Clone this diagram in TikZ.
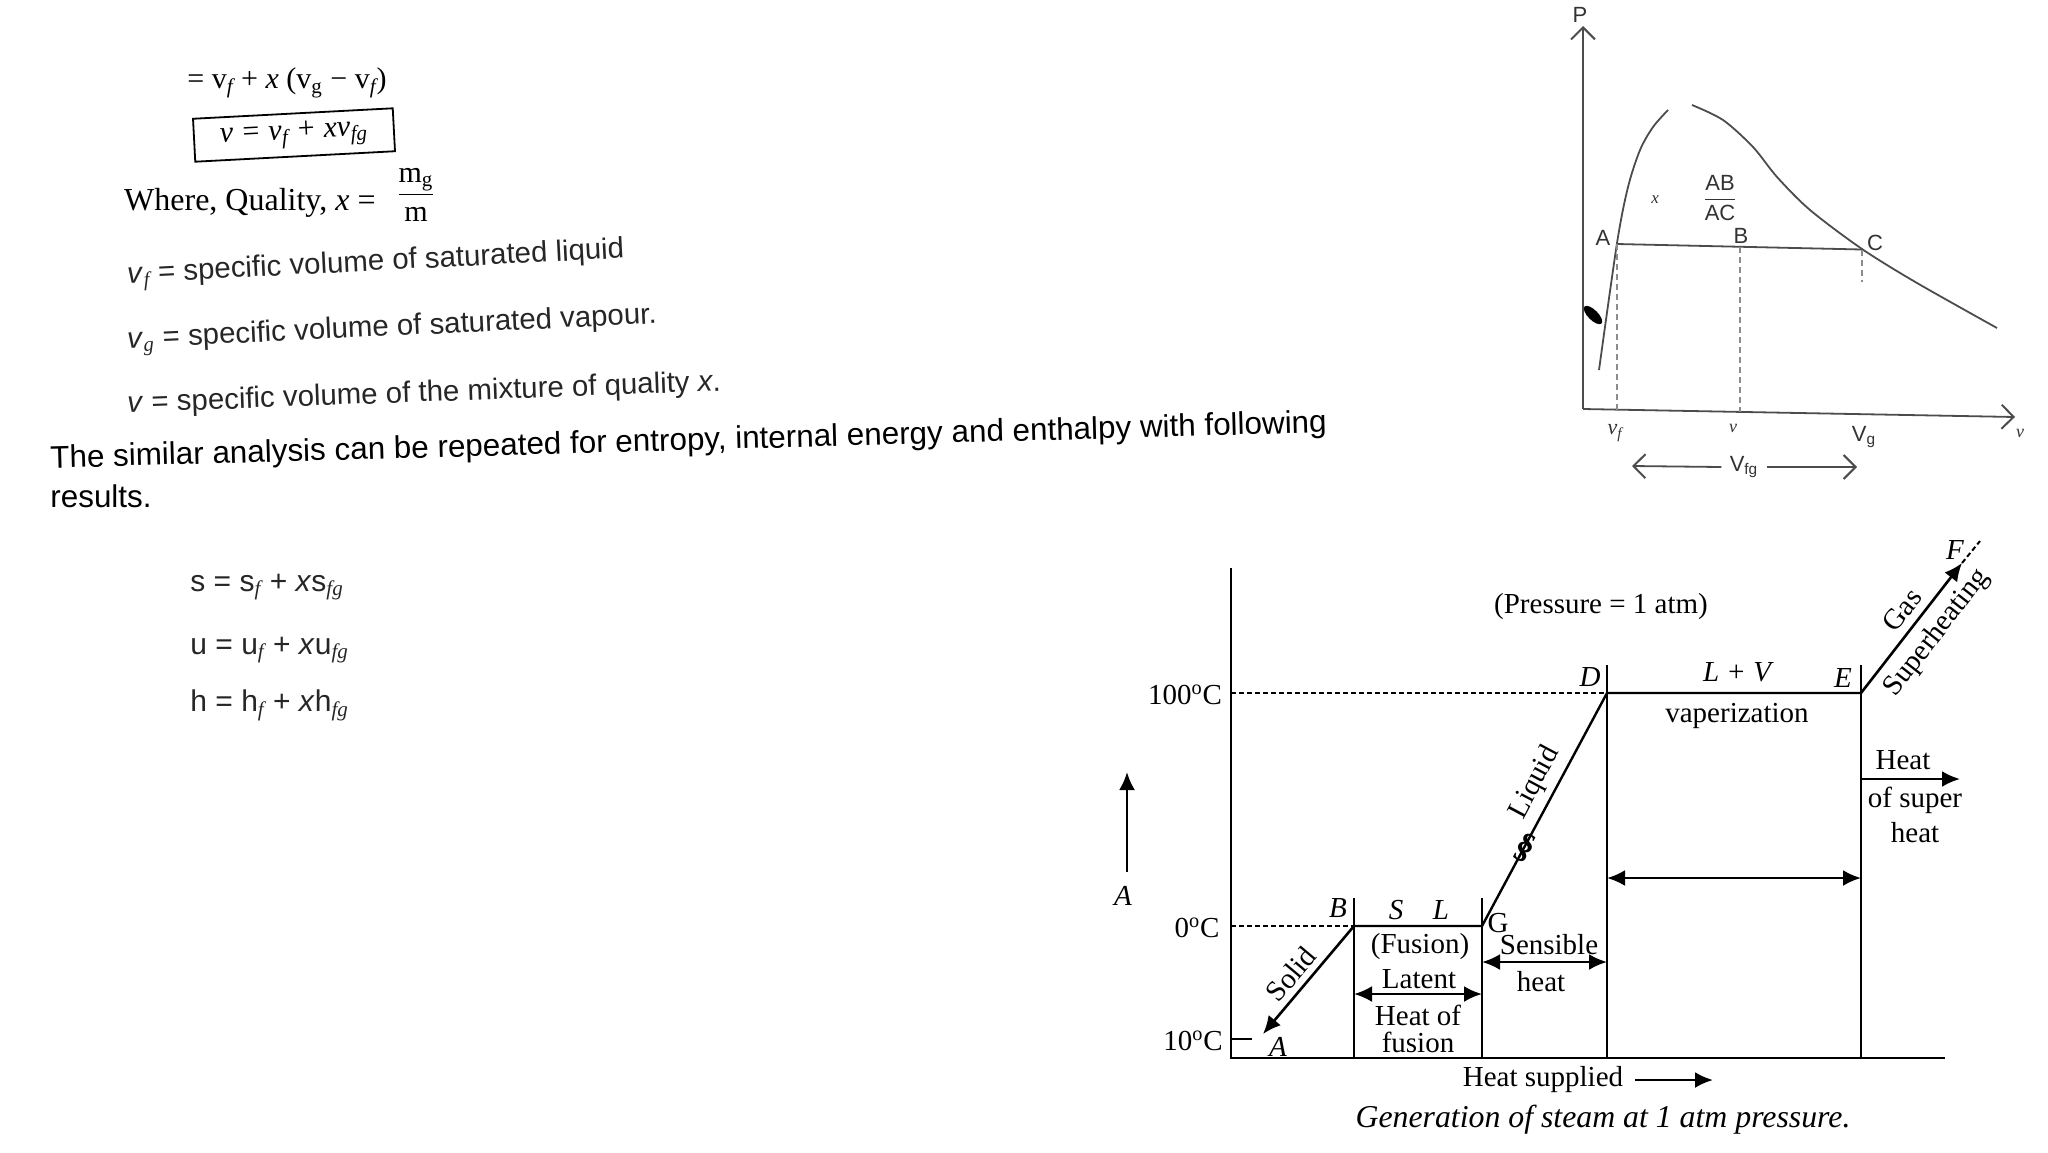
\documentclass[tikz,border=0pt]{standalone}
\usepackage{fontspec}
\setmainfont{Liberation Serif}
\setsansfont{Liberation Sans}
\usetikzlibrary{arrows.meta}
\newcommand{\subit}[1]{\textsubscript{\rmfamily\itshape #1}}

\begin{document}
\begin{tikzpicture}[x=0.5pt,y=-0.5pt,
  axisline/.style={line width=1.3pt},
  pathline/.style={line width=1.2pt},
  levelline/.style={line width=1.1pt,dash pattern=on 2.5pt off 1.5pt},
  steamarrow/.style={line width=1.3pt,-{Latex[length=9pt,width=8pt]}},
  twoway/.style={line width=1.3pt,{Latex[length=9pt,width=8pt]}-{Latex[length=9pt,width=8pt]}},
  lbl/.style={font=\rmfamily\fontsize{14.5}{16}\selectfont,inner sep=1pt},
  ilbl/.style={lbl,font=\rmfamily\itshape\fontsize{14.5}{16}\selectfont},
  pvline/.style={line width=0.9pt,black!70},
  pvguide/.style={line width=0.6pt,densely dashed,black!45},
  pvtip/.style={-{Straight Barb[length=6pt,width=12pt,line width=1pt]}},
  pvtext/.style={font=\sffamily\fontsize{11}{12}\selectfont,text=black!80,inner sep=1pt},
  pvmath/.style={font=\rmfamily\itshape\fontsize{11}{12}\selectfont,text=black!80,inner sep=1pt},
  eqtext/.style={font=\rmfamily\fontsize{15}{17}\selectfont,inner sep=1pt},
  desc/.style={font=\sffamily\fontsize{14.7}{16}\selectfont,anchor=west,inner sep=0pt,text=black!85},
  para/.style={font=\sffamily\fontsize{15.7}{17}\selectfont,anchor=west,inner sep=0pt},
  formula/.style={font=\sffamily\fontsize{15}{17}\selectfont,anchor=west,inner sep=0pt,text=black!85}]
  \useasboundingbox (0,0) rectangle (2048,1152);

  \node[eqtext] (eqmix) at (287,83) {= v\subit{f} + \textit{x} (v\textsubscript{g} − v\subit{f})};
  \node[eqtext,font=\rmfamily\itshape\fontsize{15}{17}\selectfont,draw,line width=0.9pt,rotate=3,minimum width=100pt,minimum height=21.5pt] (eqbox) at (294,135) {v = v\textsubscript{f} + xv\textsubscript{fg}};
  \node[eqtext,font=\rmfamily\fontsize{16}{17}\selectfont,anchor=east] (quality) at (378,203) {Where, Quality, \textit{x} =};
  \node[eqtext] (qfrac) at (416,195) {$\displaystyle\frac{\mbox{m\textsubscript{g}}}{\mbox{m}}$};
  \node[desc,rotate=2.9] (dvf) at (127,277) {\textit{v}\subit{f} = specific volume of saturated liquid};
  \node[desc,rotate=2.7] (dvg) at (127,342) {\textit{v}\subit{g} = specific volume of saturated vapour.};
  \node[desc,rotate=2.1] (dv) at (127,405) {\textit{v} = specific volume of the mixture of quality \textit{x}.};
  \node[para,rotate=1.6] (repeat) at (50,460) {The similar analysis can be repeated for entropy, internal energy and enthalpy with following};
  \node[para] (results) at (50,496) {results.};
  \node[formula] (srow) at (190,587) {s = s\subit{f} + \textit{x}s\subit{fg}};
  \node[formula] (urow) at (190,650) {u = u\subit{f} + \textit{x}u\subit{fg}};
  \node[formula] (hrow) at (190,705) {h = h\subit{f} + \textit{x}h\subit{fg}};

  \coordinate (pO) at (1583,409);
  \coordinate (pP) at (1583,26);
  \coordinate (pV) at (2015,417);
  \coordinate (pA) at (1617,244);
  \coordinate (pB) at (1740,247);
  \coordinate (pC) at (1862,249.5);
  \draw[pvline,pvtip] (pO) -- (pP);
  \draw[pvline,pvtip] (pO) -- (pV);
  \draw[pvline] plot[smooth] coordinates {(1599,370) (1617,243) (1628,187) (1640,150) (1653,127) (1668,110)};
  \draw[pvline] plot[smooth] coordinates {(1692,105) (1723,120) (1753,147) (1777,177) (1810,210) (1862,249) (1917,283) (1997,328)};
  \draw[pvline] (pA) -- (pC);
  \draw[pvguide] (pA) -- (1617,410);
  \draw[pvguide] (pB) -- (1740,412);
  \draw[pvguide] (pC) -- (1862,282);
  \fill[black,rotate around={45:(1593,315)}] (1593,315) ellipse (2.5pt and 6pt);
  \node[pvtext] (pPlbl) at (1580,15) {P};
  \node[pvmath,font=\rmfamily\itshape\fontsize{9}{10}\selectfont] (pVlbl) at (2020,433) {v};
  \node[pvtext] (pAlbl) at (1603,238) {A};
  \node[pvtext] (pBlbl) at (1741,236) {B};
  \node[pvtext] (pClbl) at (1875,243) {C};
  \node[pvmath,font=\rmfamily\itshape\fontsize{8.5}{10}\selectfont] (pxlbl) at (1655,200) {x};
  \node[pvtext] (pratio) at (1720,198) {$\displaystyle\frac{\mbox{AB}}{\mbox{AC}}$};
  \node[pvmath] (pvf) at (1615,433) {v\textsubscript{f}};
  \node[pvmath,font=\rmfamily\itshape\fontsize{9}{10}\selectfont] (pvx) at (1733,428) {v};
  \node[pvtext] (pvg) at (1864,437) {V\textsubscript{g}};
  \node[pvtext,inner sep=4pt] (pvfg) at (1744,467) {V\textsubscript{fg}};
  \draw[pvline,pvtip] (pvfg.west) -- (1632,466);
  \draw[pvline,pvtip] (pvfg.east) -- (1857,467);

  \coordinate (O) at (1231,1058);
  \coordinate (Ytop) at (1231,568);
  \coordinate (Xend) at (1945,1058);
  \coordinate (A) at (1263,1034);
  \coordinate (B) at (1354,926);
  \coordinate (G) at (1482,926);
  \coordinate (D) at (1607,693);
  \coordinate (E) at (1861,693);
  \coordinate (F) at (1962,563);
  \coordinate (Fend) at (1980,541);
  \draw[axisline] (Ytop) -- (O) -- (Xend);
  \draw[axisline] (1231,1039) -- (1252,1039);
  \draw[levelline] (O |- B) -- (B);
  \draw[levelline] (O |- D) -- (D);
  \draw[pathline] (B) ++(0,-28) -- (B |- O);
  \draw[pathline] (G) ++(0,-28) -- (G |- O);
  \draw[pathline] (D) ++(0,-28) -- (D |- O);
  \draw[pathline] (E) ++(0,-28) -- (E |- O);
  \draw[steamarrow] (B) -- (A);
  \draw[pathline] (B) -- (G) -- (D) -- (E);
  \draw[steamarrow] (E) -- (F);
  \draw[levelline,line width=1pt] (F) -- (Fend);
  \draw[twoway] (1354,994) -- (1482,994);
  \draw[twoway] (1482,962) -- (1607,962);
  \draw[twoway] (1607,878) -- (1861,878);
  \draw[steamarrow] (1861,779) -- (1960,779);
  \draw[steamarrow] (1127,872) -- (1127,772);
  \draw[steamarrow] (1635,1080) -- (1713,1080);
  \node[lbl,font=\rmfamily\bfseries\fontsize{18}{18}\selectfont,rotate=-28] (brk) at (1525,848) {\S};

  \node[lbl] (t100) at (1185,695) {100\textsuperscript{o}C};
  \node[lbl] (t0) at (1197,928) {0\textsuperscript{o}C};
  \node[lbl] (t10) at (1193,1041) {10\textsuperscript{o}C};
  \node[lbl] (press) at (1601,607) {(Pressure = 1 atm)};
  \node[ilbl] (lD) at (1590,677) {D};
  \node[ilbl] (lE) at (1843,678) {E};
  \node[ilbl] (lF) at (1955,550) {F};
  \node[ilbl] (lLV) at (1737,672) {L + V};
  \node[lbl] (vap) at (1737,716) {vaperization};
  \node[lbl,rotate=52] (gas) at (1902,610) {Gas};
  \node[lbl,rotate=52] (superh) at (1937,633) {Superheating};
  \node[lbl] (sh1) at (1903,760) {Heat};
  \node[lbl] (sh2) at (1915,800) {of super};
  \node[lbl] (sh3) at (1915,833) {heat};
  \node[lbl,rotate=62] (liq) at (1535,783) {Liquid};
  \node[ilbl] (lB) at (1338,908) {B};
  \node[ilbl] (lS) at (1396,910) {S};
  \node[ilbl] (lL) at (1441,910) {L};
  \node[lbl] (lG) at (1498,923) {G};
  \node[lbl] (fus1) at (1420,947) {(Fusion)};
  \node[lbl] (fus2) at (1419,979) {Latent};
  \node[lbl] (fus3) at (1418,1015) {Heat of};
  \node[lbl] (fus4) at (1418,1042) {fusion};
  \node[lbl] (sens1) at (1549,945) {Sensible};
  \node[lbl] (sens2) at (1541,982) {heat};
  \node[lbl,rotate=50] (solid) at (1291,974) {Solid};
  \node[ilbl] (lA) at (1278,1047) {A};
  \node[ilbl] (lAaxis) at (1123,896) {A};
  \node[lbl] (heatsup) at (1543,1080) {Heat supplied};
  \node[ilbl,font=\rmfamily\itshape\fontsize{15.9}{17}\selectfont] (caption) at (1603,1120) {Generation of steam at 1 atm pressure.};
\end{tikzpicture}
\end{document}
